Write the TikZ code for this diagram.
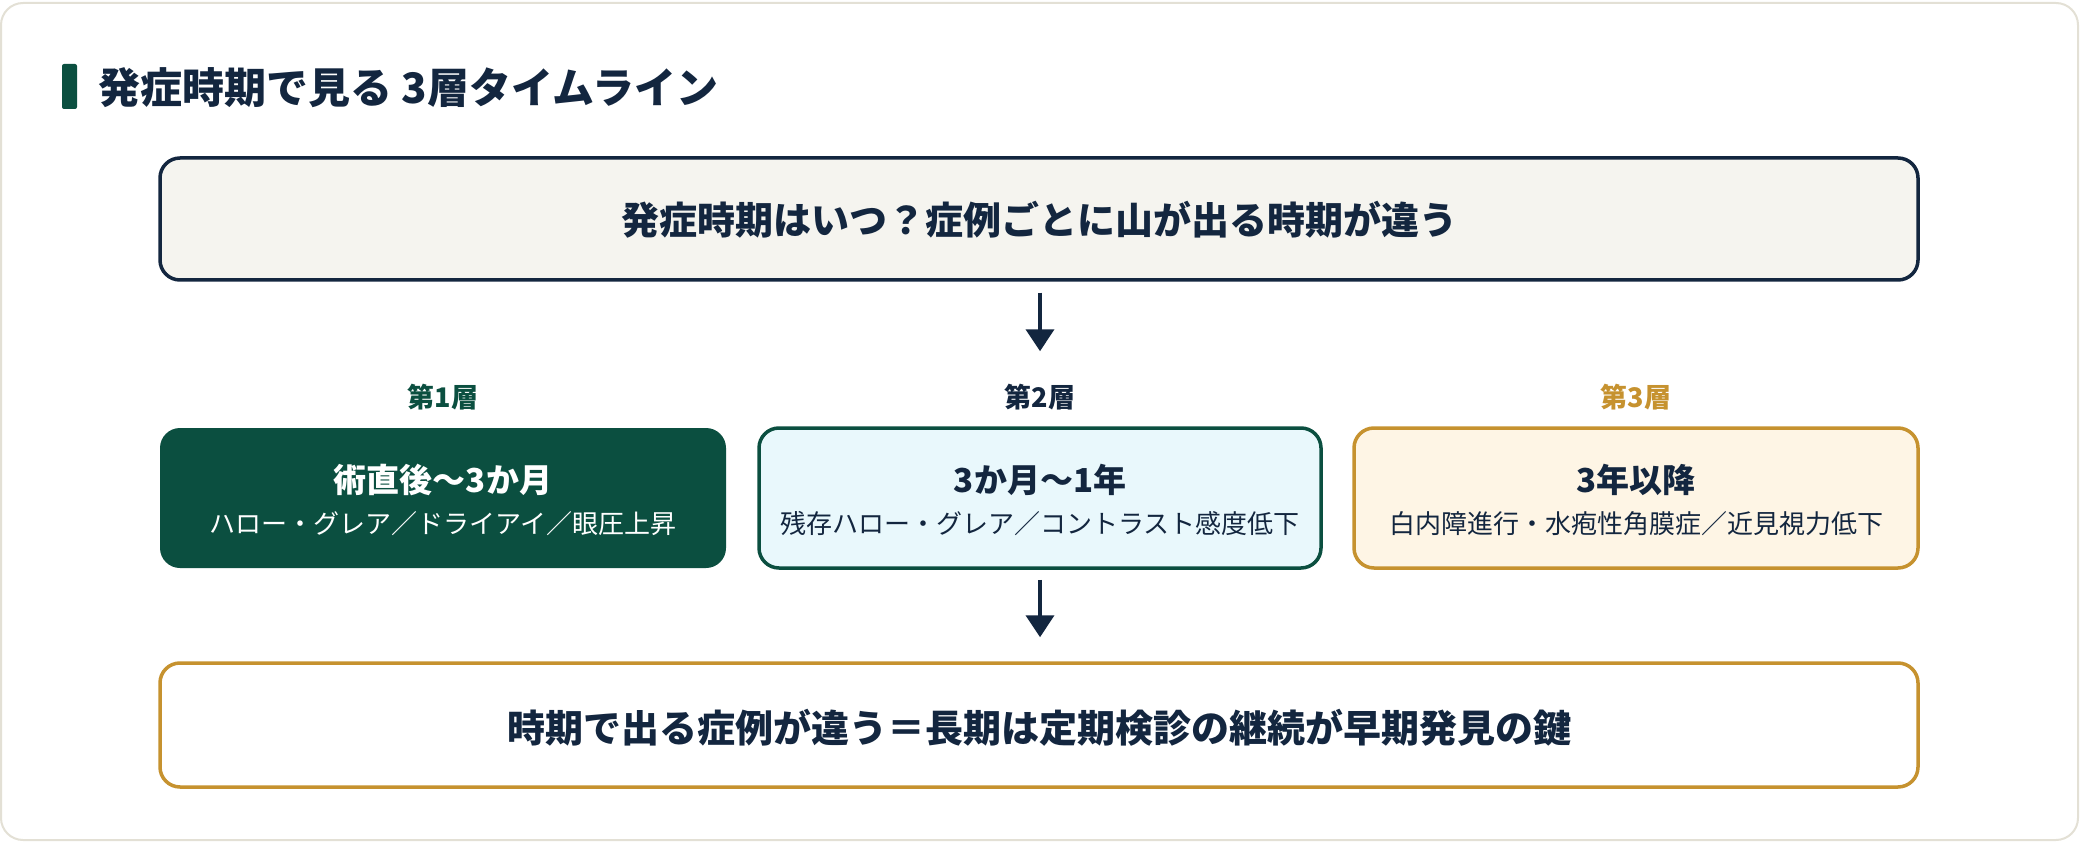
\documentclass[tikz,border=0pt]{standalone}
\usepackage{fontspec}
\setmainfont{Noto Sans CJK JP}
\usetikzlibrary{arrows.meta}
\definecolor{navy}{HTML}{13263F}
\definecolor{dgreen}{HTML}{0B4F40}
\definecolor{gold}{HTML}{C6922F}
\definecolor{framec}{HTML}{E3E0D5}
\definecolor{topfill}{HTML}{F5F4EF}
\definecolor{cyanfill}{HTML}{E9F8FC}
\definecolor{creamfill}{HTML}{FEF5E5}
\begin{document}
\begin{tikzpicture}[x=1pt,y=-1pt,
  box/.style={rounded corners=20pt, line width=3.5pt, inner sep=0pt},
  bigtxt/.style={font=\fontsize{38}{46}\selectfont\bfseries, text=navy, inner sep=0pt},
  tiertxt/.style={font=\fontsize{27}{32}\selectfont\bfseries, inner sep=0pt},
  maintxt/.style={font=\fontsize{33}{40}\selectfont\bfseries, inner sep=0pt},
  subtxt/.style={font=\fontsize{26}{32}\selectfont, inner sep=0pt},
  arr/.style={draw=navy, line width=4pt, -{Triangle[length=22pt,width=28pt]}}
]
\useasboundingbox (0,0) rectangle (2080,842);
\draw[framec, line width=2pt, fill=white, rounded corners=22pt] (1,3) rectangle (2078,840);
% title
\fill[dgreen, rounded corners=2pt] (62,64) rectangle (77,109);
\node[anchor=west, font=\fontsize{42}{48}\selectfont\bfseries, text=navy, inner sep=0pt] (title) at (98,88) {発症時期で見る 3層タイムライン};
% top box
\node[box, draw=navy, fill=topfill, minimum width=1758pt, minimum height=122pt] (top) at (1039,219) {};
\node[bigtxt] (toptxt) at (1039,220) {発症時期はいつ？症例ごとに山が出る時期が違う};
% tier labels
\node[tiertxt, text=dgreen] (l1) at (443,397) {第1層};
\node[tiertxt, text=navy] (l2) at (1040,397) {第2層};
\node[tiertxt, text=gold] (l3) at (1636,397) {第3層};
% tier boxes
\node[box, fill=dgreen, minimum width=566pt, minimum height=140pt] (b1) at (443,498) {};
\node[box, draw=dgreen, fill=cyanfill, minimum width=562pt, minimum height=140pt] (b2) at (1040,498) {};
\node[box, draw=gold, fill=creamfill, minimum width=564pt, minimum height=140pt] (b3) at (1636,498) {};
\node[maintxt, text=white] (m1) at (443,480) {術直後～3か月};
\node[subtxt, text=white] (s1) at (443,524) {ハロー・グレア／ドライアイ／眼圧上昇};
\node[maintxt, text=navy] (m2) at (1040,480) {3か月～1年};
\node[subtxt, text=navy] (s2) at (1040,524) {残存ハロー・グレア／コントラスト感度低下};
\node[maintxt, text=navy] (m3) at (1636,480) {3年以降};
\node[subtxt, text=navy] (s3) at (1636,524) {白内障進行・水疱性角膜症／近見視力低下};
% bottom box
\node[box, draw=gold, fill=white, minimum width=1758pt, minimum height=124pt] (bot) at (1039,725) {};
\node[bigtxt] (bottxt) at (1039,728) {時期で出る症例が違う＝長期は定期検診の継続が早期発見の鍵};
% arrows
\draw[arr, shorten <=11pt, shorten >=75pt] (top.south -| b2.north) -- (b2.north);
\draw[arr, shorten <=10pt, shorten >=24pt] (b2.south) -- (bot.north -| b2.south);
\end{tikzpicture}
\end{document}
